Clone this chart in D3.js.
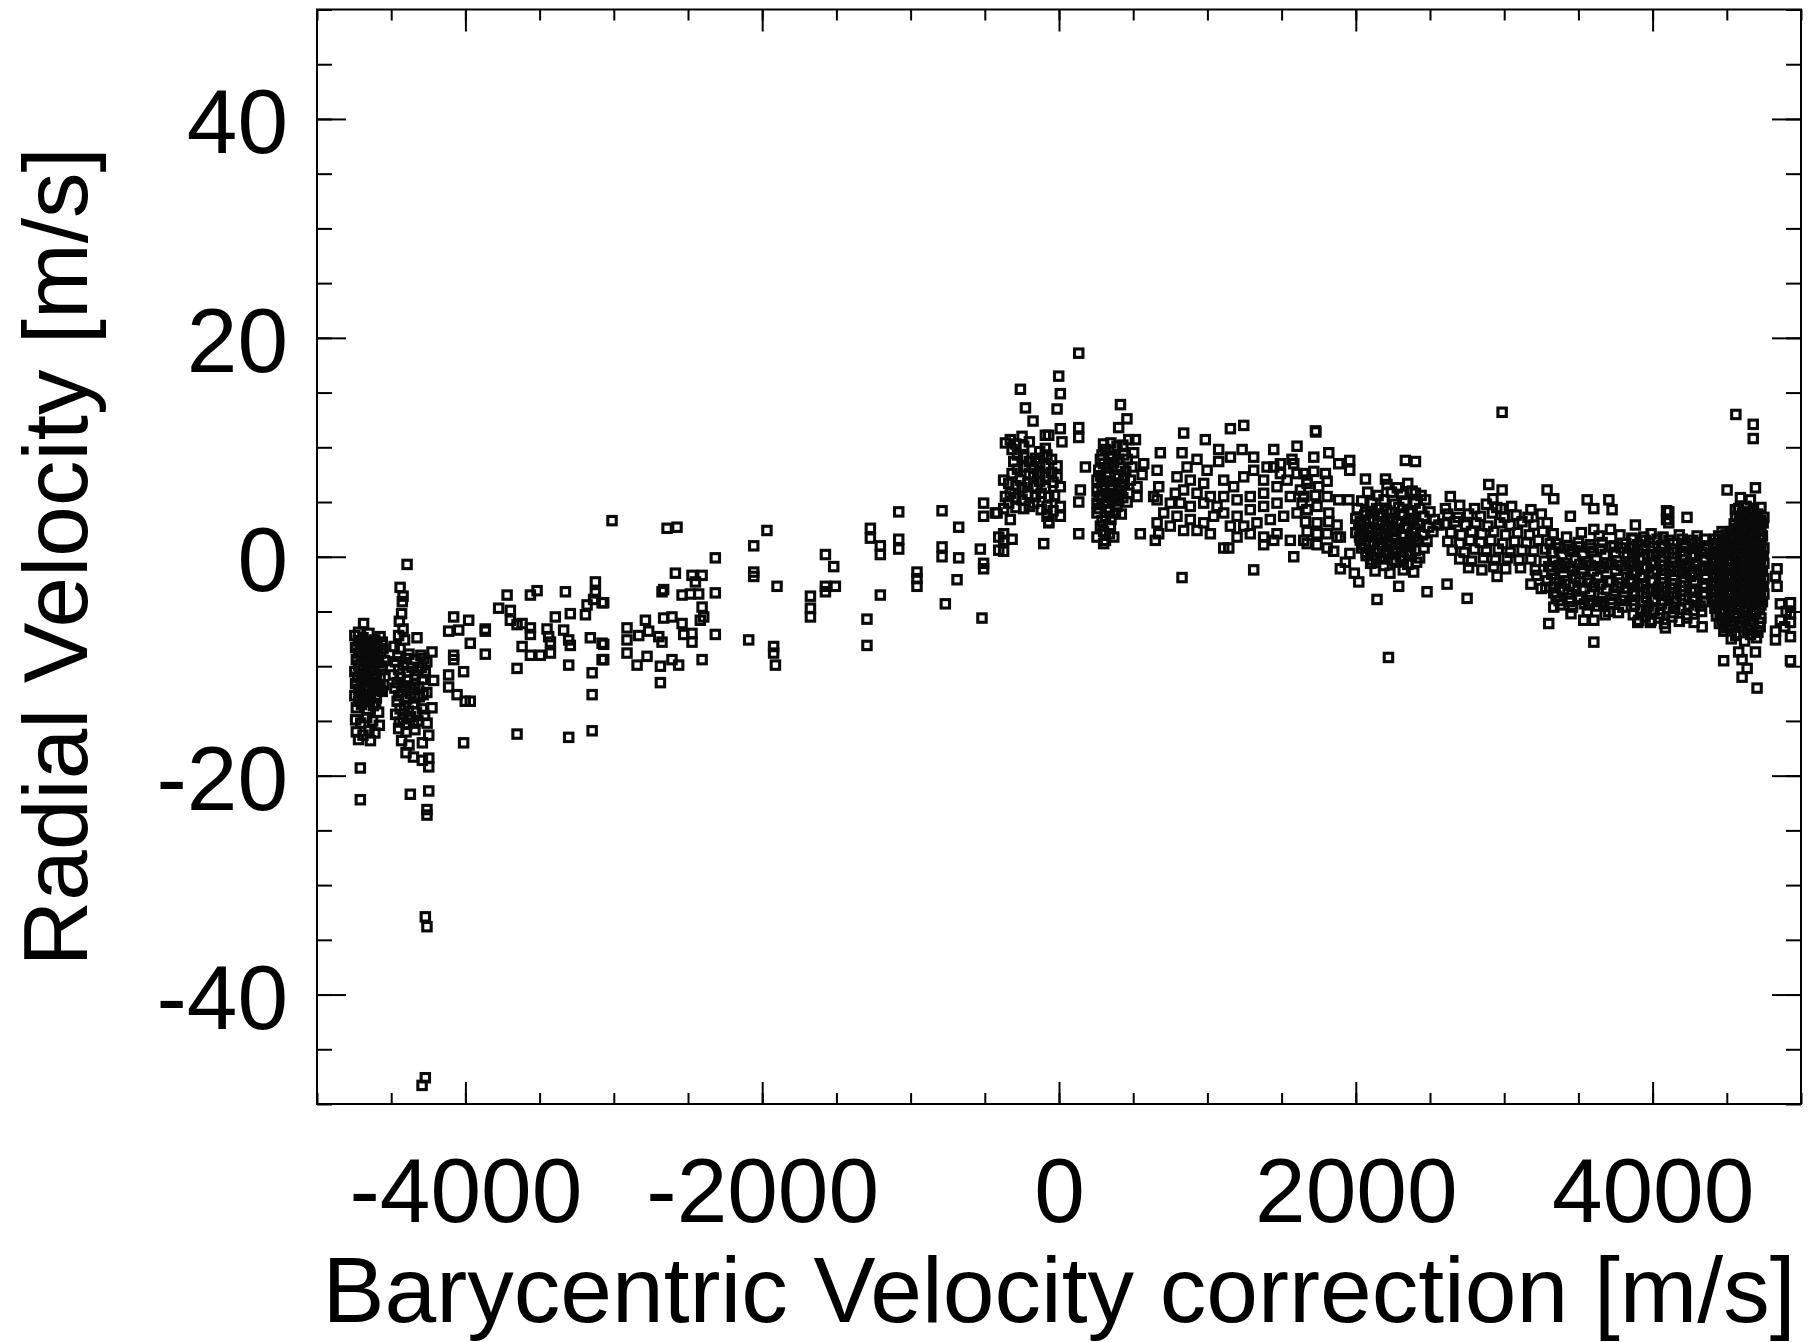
<!DOCTYPE html>
<html>
<head>
<meta charset="utf-8">
<script src="https://cdn.jsdelivr.net/npm/d3@7"></script>
<style>
  body { margin: 0; background: #fff; }
  text { font-family: "Liberation Sans", Arial, Helvetica, sans-serif; fill: #000; }
</style>
</head>
<body>
<svg id="chart" width="1814" height="1342"></svg>
<script>
// barycentric correction [m/s] vs radial velocity [m/s]
var westColumnA = [
  [-4745,-7.2],[-4720,-6.9],[-4690,-7.4],[-4650,-7.0],[-4610,-7.6],[-4575,-7.3],
  [-4740,-8.3],[-4705,-8.0],[-4670,-8.6],[-4630,-8.2],[-4590,-8.9],[-4555,-8.4],
  [-4735,-9.4],[-4700,-9.1],[-4660,-9.8],[-4620,-9.3],[-4585,-9.7],[-4545,-9.5],
  [-4745,-10.5],[-4710,-10.2],[-4675,-10.8],[-4640,-10.4],[-4600,-10.9],[-4560,-10.3],
  [-4740,-11.6],[-4700,-11.3],[-4665,-11.9],[-4625,-11.5],[-4590,-12.0],[-4550,-11.7],
  [-4745,-12.7],[-4715,-12.4],[-4680,-13.0],[-4640,-12.6],[-4600,-12.9],[-4560,-12.3],
  [-4735,-13.8],[-4700,-13.5],[-4660,-14.0],[-4620,-13.6],[-4585,-14.2],
  [-4740,-14.9],[-4705,-15.2],[-4665,-14.7],[-4625,-15.0],[-4580,-15.4],
  [-4735,-16.0],[-4690,-16.3],[-4650,-15.9],[-4610,-16.1],
  [-4720,-16.7],[-4640,-16.8],
  [-4686,-6.1],[-4708,-19.3],[-4708,-22.2],
  [-4722,-7.7],[-4680,-7.8],[-4640,-7.7],[-4595,-7.9],[-4560,-7.8],
  [-4720,-8.8],[-4685,-8.7],[-4650,-8.9],[-4610,-8.6],[-4570,-8.8],
  [-4720,-9.9],[-4680,-9.6],[-4640,-9.9],[-4600,-9.6],[-4565,-10.0],
  [-4725,-11.0],[-4690,-10.9],[-4655,-11.1],[-4615,-11.0],[-4575,-11.1],
  [-4720,-12.1],[-4685,-12.2],[-4650,-12.0],[-4610,-12.2],[-4575,-12.1],
  [-4720,-13.2],[-4690,-13.1],[-4645,-13.2],[-4605,-13.4]
];
var westColumnB = [
  [-4393,-0.7],[-4440,-2.8],[-4420,-3.6],[-4425,-4.1],[-4430,-5.2],[-4445,-5.9],[-4420,-6.6],
  [-4450,-7.2],[-4410,-7.6],[-4326,-7.4],[-4225,-8.7],
  [-4480,-8.2],[-4440,-8.4],[-4380,-8.9],[-4300,-9.0],[-4260,-9.6],
  [-4470,-9.6],[-4420,-9.9],[-4360,-10.1],[-4320,-10.4],[-4270,-10.6],
  [-4485,-10.8],[-4440,-11.0],[-4390,-11.3],[-4340,-11.6],[-4290,-11.2],[-4214,-11.3],
  [-4475,-12.0],[-4430,-12.3],[-4370,-12.5],[-4310,-12.8],[-4260,-12.4],
  [-4460,-13.2],[-4410,-13.6],[-4350,-13.4],[-4290,-13.9],[-4225,-13.8],
  [-4470,-14.4],[-4420,-14.8],[-4370,-14.6],[-4320,-15.0],[-4258,-15.2],
  [-4450,-15.7],[-4400,-16.0],[-4340,-15.8],[-4247,-16.3],
  [-4430,-16.8],[-4380,-17.2],[-4290,-17.0],
  [-4400,-17.9],[-4350,-18.3],
  [-4290,-18.6],[-4247,-18.4],[-4247,-19.2],[-4371,-21.7],[-4247,-21.4],[-4259,-23.1],[-4259,-23.6],
  [-4270,-32.9],[-4259,-33.8],[-4270,-47.6],[-4292,-48.3],
  [-4455,-9.1],[-4400,-9.3],[-4340,-9.4],[-4280,-9.3],
  [-4450,-10.3],[-4390,-10.5],[-4340,-10.8],[-4295,-10.1],
  [-4460,-11.5],[-4410,-11.8],[-4360,-12.0],[-4315,-11.9],
  [-4450,-12.7],[-4395,-13.0],[-4340,-12.9],[-4285,-12.6],
  [-4440,-13.9],[-4385,-14.1],[-4330,-14.2],[-4275,-14.5],
  [-4445,-15.1],[-4395,-15.3],[-4350,-15.2]
];
var westSparse = [
  [-4079,-5.5],[-3978,-5.8],[-4113,-6.8],[-4045,-6.7],[-3866,-6.6],[-3866,-6.8],[-3967,-7.9],
  [-3866,-8.9],[-4079,-9.0],[-4079,-9.4],[-4113,-10.8],[-4012,-10.5],[-4113,-11.9],[-4056,-12.6],
  [-4001,-13.2],[-3967,-13.2],[-4012,-17.0],[-3652,-16.2],[-3304,-16.5],[-3146,-15.9],
  [-3719,-3.5],[-3776,-4.7],[-3697,-4.9],[-3562,-3.5],[-3517,-3.1],[-3326,-3.2],
  [-3697,-5.8],[-3652,-6.2],[-3618,-6.1],[-3562,-6.5],[-3562,-7.1],
  [-3618,-8.2],[-3562,-9.0],[-3495,-9.0],[-3427,-8.8],[-3652,-10.2],
  [-3450,-6.6],[-3439,-7.3],[-3427,-7.8],[-3394,-5.5],[-3338,-6.7],[-3293,-5.2],
  [-3304,-7.6],[-3293,-8.1],[-3304,-9.9],
  [-3191,-5.3],[-3180,-4.4],[-3136,-3.9],[-3124,-2.3],[-3124,-3.3],[-3079,-4.2],[-3158,-7.4],
  [-3079,-7.9],[-3079,-9.4],[-3146,-10.6],[-3146,-12.6]
];
var midSparse = [
  [-3012,3.3],[-2641,2.6],[-2574,2.7],[-3068,-4.2],[-3068,-8.0],[-3068,-9.4],
  [-2911,-6.5],[-2911,-7.6],[-2911,-8.8],[-2832,-7.2],[-2787,-5.8],[-2765,-6.8],[-2843,-9.9],
  [-2776,-9.1],[-2697,-7.3],[-2675,-7.8],[-2664,-5.6],[-2608,-5.5],[-2686,-10.0],[-2608,-9.4],
  [-2563,-9.9],[-2686,-11.5],[-2540,-6.1],[-2529,-7.1],[-2473,-7.0],[-2473,-7.8],[-2417,-5.8],
  [-2394,-5.5],[-2405,-9.4],[-2316,-7.1],[-2585,-1.5],[-2473,-1.7],[-2405,-1.7],[-2450,-2.3],
  [-2664,-3.0],[-2675,-3.2],[-2540,-3.5],[-2484,-3.4],[-2428,-3.4],[-2405,-4.6],[-2316,-3.3],[-2316,-0.1],
  [-2091,-7.6],[-2057,1.0],[-1968,2.4],[-2057,-1.4],[-2057,-1.8],[-1900,-2.7],[-1923,-8.2],
  [-1923,-8.8],[-1911,-9.9],
  [-1675,-3.6],[-1675,-4.7],[-1675,-5.5],[-1574,0.2],[-1518,-0.9],[-1574,-2.7],[-1574,-3.2],[-1507,-2.7],
  [-1294,-5.7],[-1294,-8.1],[-1271,2.6],[-1271,1.7],[-1204,1.0],[-1204,0.2],[-1204,-3.5],
  [-1080,4.1],[-1080,1.6],[-1080,0.7],[-957,-1.4],[-957,-2.0],[-957,-2.7],
  [-788,4.2],[-788,0.9],[-788,0.0],[-676,2.7],[-676,-0.1],[-687,-2.1],[-766,-4.3],
  [-519,-5.6],[-530,0.7],[-508,4.9],[-508,3.7],[-508,-0.6],[-508,-1.1],[-429,4.0],[-406,1.8],[-406,0.6]
];
var centerPeak = [
  [-328,10.7],[-249,11.0],[-238,10.1],[-316,9.8],[-92,9.9],[-81,9.3],[-159,9.0],[-238,9.1],
  [-305,8.7],[-316,7.6],[-238,8.2],[-170,8.1],[-92,8.3],[-13,8.3],[-13,7.3],[9,6.4],
  [-92,7.3],[-170,7.3],[-260,7.0],[-339,6.7],[-328,5.8],[-249,6.3],[-170,6.4],[-92,6.3],
  [-69,5.5],[-339,4.9],[-249,5.2],[-170,4.9],[-81,4.6],[9,4.6],[9,3.7],[-81,3.7],
  [-69,3.1],[-328,3.4],[-238,4.4],[-159,5.5],
  [133,18.6],[-2,16.5],[9,14.9],[-13,13.5],[-260,15.3],[-226,13.6],[-175,12.4],[133,11.8],
  [133,10.9],[-69,11.1],[9,11.7],[20,10.5],[-92,11.1],[-417,4.0],[-373,2.1],[-316,1.6],
  [-373,0.5],[-373,1.5],[-103,1.2],[-69,3.2],[133,2.1],[178,8.2],[144,6.1],[133,5.0],
  [-361,10.4],[-373,7.0],[-361,5.5],[-373,4.4],
  [-290,10.3],[-200,10.5],[-130,9.6],[-280,9.3],[-200,8.7],[-130,8.6],[-50,8.9],[-280,8.0],
  [-200,7.6],[-130,7.6],[-50,7.7],[-290,6.5],[-210,6.7],[-130,6.9],[-40,6.8],[-290,5.4],
  [-210,5.7],[-120,5.8],[-30,5.6],[-290,4.5],[-200,4.6],[-120,4.3],[-40,4.2]
];
var centerBump = [
  [313,9.8],[391,10.1],[470,10.7],[515,10.7],[279,8.9],[358,9.2],[436,9.3],[503,9.5],[571,8.5],
  [268,7.9],[335,8.1],[414,8.2],[492,8.2],[560,7.5],[256,7.0],[324,6.9],[402,7.2],[481,7.0],
  [526,6.4],[256,6.0],[324,5.8],[402,6.1],[470,5.8],[526,5.5],[256,4.9],[324,4.9],[391,4.6],
  [459,5.0],[256,4.0],[313,3.7],[380,4.0],[279,2.8],[346,2.8],[256,1.8],[313,1.5],[369,1.8],
  [301,1.2],[414,13.9],[458,12.6],[402,11.8],[548,2.1],[661,7.9],[683,9.5],[672,6.4],[661,5.2],
  [290,9.3],[370,8.6],[450,7.8],[290,6.4],[360,6.5],[440,6.6],[290,5.4],[360,5.2],[430,5.4],
  [290,3.3],[350,3.4],[420,3.9],[300,2.3],[340,2.1],
  [300,10.3],[350,10.4],[430,10.2],[300,8.5],[340,9.0],[400,8.9],[460,8.9],[280,7.4],[320,7.6],
  [380,7.5],[440,7.3],[300,6.9],[350,6.2],[420,6.4],[270,5.5],[330,5.5],[400,5.5],[270,4.4],
  [340,4.3],[390,5.1]
];
var centerBand = [
  [829,9.5],[795,7.3],[863,8.2],[930,8.9],[998,7.9],[885,7.0],[975,6.7],[840,6.1],[930,5.8],
  [1020,5.5],[818,4.9],[885,4.6],[975,4.9],[1065,4.6],[795,3.7],[885,3.4],[975,3.1],[1042,3.7],
  [840,2.4],[930,2.4],[1020,2.1],[1110,7.0],[1177,6.4],[1245,7.3],[1312,7.9],[1379,7.0],
  [1110,5.5],[1200,5.2],[1289,5.5],[1379,5.8],[1469,6.4],[1537,7.0],[1604,7.6],[1671,7.0],
  [1110,4.0],[1200,3.7],[1289,4.3],[1379,4.6],[1469,4.9],[1559,5.5],[1649,5.5],[1155,2.8],
  [1245,2.8],[1334,3.1],[1424,3.4],[1514,3.7],[1604,4.0],[1671,4.3],[1200,1.8],[1289,2.1],
  [1379,1.8],[1469,2.1],[1559,1.5],[1649,1.5],[1492,7.6],[1582,8.5],[1447,8.2],[1402,8.2],
  [638,5.5],[661,3.1],[706,4.0],[649,1.5],[672,2.1],[750,2.8],[750,4.9],[784,5.8],
  [840,11.3],[986,10.7],[1155,11.7],[1245,12.0],[1076,9.8],[1076,8.7],[1234,9.8],[1155,9.1],
  [1312,9.1],[1447,9.8],[1604,10.1],[1492,8.5],[1570,8.9],[829,-1.9],[1312,-1.2],[1110,0.8],
  [1144,0.8],[1582,0.0],[1447,1.5],[1379,1.1],[1731,11.4]
];
var eastBandA = [
  [1728,11.5],[1717,9.1],[1818,9.5],[1885,8.5],[1959,8.8],[1959,7.9],[1896,1.8],[1896,-1.1],
  [1649,7.6],[1717,7.8],[1795,7.6],[1672,6.7],[1750,6.4],[1807,6.9],[1649,5.5],[1728,5.6],
  [1807,5.5],[1885,5.2],[1953,5.2],[1672,4.3],[1739,4.6],[1818,4.0],[1661,3.2],[1739,3.1],
  [1818,3.2],[1874,2.9],[1672,2.3],[1739,2.1],[1807,2.1],[1874,1.8],[1672,1.2],[1739,1.1],
  [1807,0.8],[1851,0.5],[1627,6.1],[1638,4.9],[1930,-0.5],[1990,-1.5],[1960,0.3]
];
var eastBandB = [
  [2210,6.6],[2280,6.3],[2350,6.7],
  [2080,5.9],[2150,5.6],[2240,5.9],[2310,5.7],[2380,6.0],[2440,5.6],
  [2040,5.1],[2110,4.9],[2190,5.2],[2260,4.8],[2330,5.1],[2400,4.9],[2470,5.2],
  [2010,4.4],[2070,4.1],[2140,4.4],[2210,4.2],[2290,4.5],[2360,4.2],[2430,4.4],[2500,4.1],
  [2000,3.5],[2060,3.8],[2120,3.4],[2180,3.7],[2250,3.5],[2320,3.8],[2390,3.5],[2460,3.7],[2530,3.4],
  [2020,2.9],[2090,2.7],[2150,3.0],[2220,2.8],[2280,3.1],[2350,2.8],[2420,3.0],[2490,2.7],[2560,2.9],
  [2000,2.2],[2050,2.0],[2110,2.3],[2170,2.1],[2240,2.3],[2310,2.0],[2380,2.2],[2450,2.0],[2520,2.3],
  [2030,1.5],[2090,1.3],[2150,1.6],[2210,1.4],[2270,1.6],[2340,1.3],[2410,1.5],[2480,1.4],
  [2040,0.8],[2100,0.6],[2180,0.9],[2250,0.7],[2330,0.9],[2400,0.6],[2460,0.8],
  [2070,0.1],[2140,-0.1],[2220,0.2],[2300,0.0],[2370,0.2],[2430,-0.1],
  [2100,-0.6],[2190,-0.8],[2270,-0.5],[2350,-0.7],[2410,-0.5],
  [2130,-1.3],[2230,-1.5],[2320,-1.2],[2390,-1.4],
  [2334,8.8],[2402,8.7],[2065,7.1],[2200,7.1],[2637,5.5],[2604,4.4],[2402,5.8],[2020,-2.3],
  [2143,-3.9],[2289,-2.7],[2480,-3.2],[2220,-9.2],
  [2100,4.0],[2170,3.9],[2240,4.0],[2310,3.9],[2380,4.0],
  [2030,3.2],[2090,3.3],[2150,3.2],[2215,3.3],[2285,3.2],[2355,3.3],
  [2035,2.5],[2080,2.6],[2140,2.5],[2200,2.6],[2260,2.5],[2330,2.6],[2400,2.5],
  [2025,1.8],[2080,1.9],[2140,1.8],[2200,1.9],[2260,1.8],[2320,1.9],[2390,1.8],
  [2060,1.1],[2120,1.2],[2180,1.1],[2240,1.2],[2300,1.1],[2370,1.2],
  [2070,0.4],[2140,0.5],[2210,0.4],[2280,0.5],[2350,0.4],
  [2110,-0.3],[2180,-0.2],[2250,-0.3],[2320,-0.2]
];
var eastBandC = [
  [2700,4.7],[2800,4.4],[2880,4.8],[2950,4.5],[3050,4.6],[3180,4.3],
  [2620,3.9],[2690,3.6],[2760,3.9],[2840,3.7],[2920,4.0],[3000,3.6],[3080,3.8],[3160,3.6],[3250,3.9],
  [2600,3.0],[2670,3.2],[2740,2.9],[2810,3.1],[2890,2.8],[2970,3.1],[3040,2.9],[3120,3.2],[3200,2.9],[3290,3.1],
  [2640,2.2],[2710,2.0],[2780,2.3],[2850,2.1],[2930,2.3],[3010,2.0],[3090,2.2],[3170,2.0],[3260,2.3],[3330,2.1],
  [2620,1.4],[2700,1.2],[2770,1.5],[2840,1.3],[2910,1.5],[2990,1.2],[3070,1.4],[3150,1.3],[3230,1.5],[3310,1.2],
  [2650,0.6],[2730,0.4],[2800,0.7],[2880,0.5],[2960,0.7],[3040,0.4],[3120,0.6],[3200,0.5],[3280,0.7],
  [2700,-0.2],[2780,-0.4],[2860,-0.1],[2940,-0.3],[3020,-0.1],[3100,-0.3],[3180,-0.2],[3270,-0.4],
  [2760,-1.0],[2850,-1.2],[2930,-0.9],[3010,-1.1],[3110,-1.0],[3210,-1.2],[3300,-0.9],
  [3220,-1.7],[3290,-2.2],[3250,-2.9],[3320,-1.6],[3334,-3.3],[3334,-4.6],[3300,-6.1],[2986,13.2],
  [2896,6.6],[2986,6.1],[3289,6.1],[3334,5.3],[2615,-2.5],[2750,-3.8],[2952,-1.8],[2924,5.3],
  [2978,4.4],[3280,-2.8],[3180,-2.5]
];
var eastBandD = [
  [3330,2.1],[3420,1.8],[3520,2.2],[3640,1.9],[3780,2.0],[3860,1.7],[3990,2.1],[4070,1.8],[4180,2.0],[4300,1.9],
  [3350,1.2],[3430,1.0],[3500,1.3],[3580,1.1],[3660,1.3],[3740,1.0],[3820,1.2],[3900,1.1],[3980,1.3],[4060,1.0],
  [4140,1.2],[4220,1.1],[4300,1.3],[4370,1.0],
  [3320,0.4],[3390,0.2],[3460,0.5],[3530,0.3],[3600,0.5],[3680,0.2],[3750,0.4],[3830,0.3],[3900,0.5],[3970,0.2],
  [4040,0.4],[4110,0.3],[4190,0.5],[4260,0.2],[4330,0.4],[4390,0.3],
  [3340,-0.4],[3410,-0.6],[3480,-0.3],[3550,-0.5],[3620,-0.3],[3690,-0.6],[3760,-0.4],[3840,-0.5],[3910,-0.3],
  [3990,-0.6],[4060,-0.4],[4130,-0.5],[4200,-0.3],[4280,-0.6],[4350,-0.4],
  [3320,-1.2],[3390,-1.0],[3460,-1.3],[3530,-1.1],[3600,-1.3],[3670,-1.0],[3750,-1.2],[3820,-1.1],[3890,-1.3],
  [3960,-1.0],[4030,-1.2],[4110,-1.1],[4180,-1.3],[4250,-1.0],[4320,-1.2],[4390,-1.1],
  [3340,-2.0],[3410,-2.2],[3480,-1.9],[3560,-2.1],[3630,-1.9],[3700,-2.2],[3770,-2.0],[3850,-2.1],[3920,-1.9],
  [3990,-2.2],[4060,-2.0],[4140,-2.1],[4210,-1.9],[4280,-2.2],[4360,-2.0],
  [3330,-2.8],[3400,-3.0],[3470,-2.7],[3540,-2.9],[3610,-2.7],[3690,-3.0],[3760,-2.8],[3830,-2.9],[3900,-2.7],
  [3970,-3.0],[4040,-2.8],[4120,-2.9],[4190,-2.7],[4260,-3.0],[4340,-2.8],
  [3350,-3.6],[3430,-3.4],[3500,-3.7],[3580,-3.5],[3660,-3.7],[3740,-3.4],[3810,-3.6],[3880,-3.5],[3960,-3.7],
  [4040,-3.4],[4110,-3.6],[4190,-3.5],[4270,-3.7],[4340,-3.4],
  [3380,-4.4],[3460,-4.6],[3540,-4.3],[3630,-4.5],[3720,-4.3],[3800,-4.6],[3880,-4.4],[3970,-4.5],[4060,-4.3],
  [4150,-4.6],[4240,-4.4],[4320,-4.5],
  [3450,-5.2],[3560,-5.0],[3680,-5.3],[3770,-5.1],[3870,-5.3],[3960,-5.0],[4050,-5.2],[4140,-5.1],[4230,-5.3],[4330,-5.0],
  [3900,-6.0],[3990,-5.8],[4080,-6.1],[4180,-5.9],[4280,-6.0],
  [4109,4.1],[4109,3.1],[4232,3.6],[3559,5.2],[3705,5.2],[3727,4.3],[3604,4.4],[3446,3.7],[3604,2.5],
  [3716,2.5],[3884,2.9],[3940,1.8],[4266,1.2],[4232,-0.8],[4255,-1.8],[3604,-7.8],[3536,-5.8],[3604,-5.8],
  [4334,-6.4],[4086,-6.5],[3907,-5.8],[3985,-6.0],[3705,-5.0],[3671,-4.3],[3570,-4.4],[3446,-3.8],
  [4094,4.2],[4094,3.4]
];
var eastBandDCore = [
  [3870,1.6],[3950,1.5],[4030,1.6],[4110,1.5],[4200,1.6],[4270,1.5],[4350,1.6],
  [3865,0.8],[3935,0.7],[4005,0.9],[4075,0.8],[4145,0.7],[4215,0.9],[4285,0.8],[4355,0.7],
  [3865,0.0],[3935,-0.1],[4005,0.1],[4075,0.0],[4145,-0.1],[4215,0.1],[4285,0.0],[4355,-0.1],
  [3865,-0.8],[3935,-0.9],[4005,-0.7],[4075,-0.8],[4145,-0.9],[4215,-0.7],[4285,-0.8],[4355,-0.9],
  [3865,-1.6],[3935,-1.7],[4005,-1.5],[4075,-1.6],[4145,-1.7],[4215,-1.5],[4285,-1.6],[4355,-1.7],
  [3865,-2.4],[3935,-2.5],[4005,-2.3],[4075,-2.4],[4145,-2.5],[4215,-2.3],[4285,-2.4],[4355,-2.5],
  [3865,-3.2],[3935,-3.3],[4005,-3.1],[4075,-3.2],[4145,-3.3],[4215,-3.1],[4285,-3.2],[4355,-3.3],
  [3865,-4.0],[3935,-4.1],[4005,-3.9],[4075,-4.0],[4145,-4.1],[4215,-3.9],[4285,-4.0],[4355,-4.1],
  [3920,-4.8],[4010,-4.9],[4100,-4.7],[4190,-4.8],[4280,-4.9],
  [3950,-5.5],[4040,-5.6],[4130,-5.5],[4230,-5.6],
  [3370,0.8],[3440,0.7],[3510,0.9],[3580,0.8],[3650,0.7],[3720,0.9],[3790,0.8],
  [3370,-0.8],[3440,-0.9],[3510,-0.7],[3580,-0.8],[3650,-0.9],[3720,-0.7],[3790,-0.8],
  [3370,-2.4],[3440,-2.5],[3510,-2.3],[3580,-2.4],[3650,-2.5],[3720,-2.3],[3790,-2.4],
  [3370,-4.0],[3440,-4.1],[3510,-3.9],[3580,-4.0],[3650,-4.1],[3720,-3.9],[3790,-4.0]
];
var eastEdge = [
  [4580,4.4],[4630,4.6],[4680,4.3],[4730,4.5],
  [4560,3.7],[4610,3.9],[4660,3.6],[4710,3.8],[4750,3.6],
  [4550,3.0],[4600,2.8],[4650,3.1],[4700,2.9],[4745,3.1],
  [4530,2.3],[4580,2.1],[4630,2.4],[4680,2.2],[4730,2.4],
  [4420,1.6],[4470,1.4],[4520,1.7],[4570,1.5],[4620,1.7],[4670,1.4],[4720,1.6],
  [4410,0.9],[4460,0.7],[4510,1.0],[4560,0.8],[4610,1.0],[4660,0.7],[4710,0.9],[4750,0.8],
  [4400,0.2],[4450,0.0],[4500,0.3],[4550,0.1],[4600,0.3],[4650,0.0],[4700,0.2],[4745,0.1],
  [4410,-0.5],[4460,-0.7],[4510,-0.4],[4560,-0.6],[4610,-0.4],[4660,-0.7],[4710,-0.5],[4750,-0.6],
  [4400,-1.2],[4450,-1.4],[4500,-1.1],[4550,-1.3],[4600,-1.1],[4650,-1.4],[4700,-1.2],[4740,-1.3],
  [4410,-1.9],[4460,-2.1],[4510,-1.8],[4560,-2.0],[4610,-1.8],[4660,-2.1],[4710,-1.9],[4750,-2.0],
  [4400,-2.6],[4450,-2.8],[4500,-2.5],[4550,-2.7],[4600,-2.5],[4650,-2.8],[4700,-2.6],[4745,-2.7],
  [4410,-3.3],[4460,-3.5],[4510,-3.2],[4560,-3.4],[4610,-3.2],[4660,-3.5],[4710,-3.3],[4750,-3.4],
  [4400,-4.0],[4450,-4.2],[4500,-3.9],[4550,-4.1],[4600,-3.9],[4650,-4.2],[4700,-4.0],[4740,-4.1],
  [4420,-4.7],[4470,-4.9],[4520,-4.6],[4570,-4.8],[4620,-4.6],[4670,-4.9],[4720,-4.7],
  [4430,-5.4],[4490,-5.6],[4550,-5.3],[4610,-5.5],[4670,-5.3],[4730,-5.6],
  [4450,-6.1],[4520,-6.3],[4590,-6.0],[4660,-6.2],[4720,-6.0],
  [4480,-6.8],[4560,-7.0],[4640,-6.7],[4710,-6.9],
  [4530,-7.5],[4620,-7.7],[4700,-7.4]
];
var eastEdgeCore = [
  [4605,4.0],[4655,4.1],[4705,3.9],
  [4585,3.3],[4635,3.4],[4685,3.2],[4730,3.3],
  [4565,2.6],[4615,2.7],[4665,2.5],[4715,2.6],
  [4445,1.9],[4495,2.0],[4545,1.8],[4595,1.9],[4645,2.0],[4695,1.8],[4740,1.9],
  [4435,1.2],[4485,1.3],[4535,1.1],[4585,1.2],[4635,1.3],[4685,1.1],[4730,1.2],
  [4425,0.5],[4475,0.6],[4525,0.4],[4575,0.5],[4625,0.6],[4675,0.4],[4725,0.5],
  [4425,-0.2],[4475,-0.1],[4525,-0.3],[4575,-0.2],[4625,-0.1],[4675,-0.3],[4725,-0.2],
  [4425,-0.9],[4475,-0.8],[4525,-1.0],[4575,-0.9],[4625,-0.8],[4675,-1.0],[4725,-0.9],
  [4425,-1.6],[4475,-1.5],[4525,-1.7],[4575,-1.6],[4625,-1.5],[4675,-1.7],[4725,-1.6],
  [4425,-2.3],[4475,-2.2],[4525,-2.4],[4575,-2.3],[4625,-2.2],[4675,-2.4],[4725,-2.3],
  [4425,-3.0],[4475,-2.9],[4525,-3.1],[4575,-3.0],[4625,-2.9],[4675,-3.1],[4725,-3.0],
  [4425,-3.7],[4475,-3.6],[4525,-3.8],[4575,-3.7],[4625,-3.6],[4675,-3.8],[4725,-3.7],
  [4435,-4.4],[4485,-4.3],[4535,-4.5],[4585,-4.4],[4635,-4.3],[4685,-4.5],[4730,-4.4],
  [4455,-5.1],[4515,-5.0],[4575,-5.2],[4635,-5.0],[4695,-5.1],
  [4470,-5.8],[4540,-5.9],[4610,-5.7],[4680,-5.8],
  [4500,-6.5],[4580,-6.4],[4660,-6.5],[4725,-6.4],
  [4560,-7.2],[4660,-7.1]
];
var farEast = [
  [4839,-1.1],[4828,-1.8],[4839,-2.7],[4861,-4.3],[4929,-4.2],[4929,-5.2],[4861,-5.8],[4929,-6.0],
  [4828,-7.6],[4929,-7.3],[4828,-6.8],[4929,-9.5],[4900,-5.0],[4890,-6.4],
  [4561,13.0],[4678,12.1],[4678,10.8],[4502,6.1],[4693,6.3],[4592,5.4],[4659,5.2],[4558,4.3],
  [4468,2.3],[4479,-9.5],[4580,-8.7],[4603,-9.4],[4637,-10.2],[4603,-11.0],[4704,-12.0],[4693,-8.7]
];

var series = [westColumnA, westColumnB, westSparse, midSparse, centerPeak, centerBump,
              centerBand, eastBandA, eastBandB, eastBandC, eastBandD, eastBandDCore,
              eastEdge, eastEdgeCore, farEast];
var points = d3.merge(series);

var xDomain = [-5000, 5000],
    yDomain = [-50, 50];
var xTickValues = [-4000, -2000, 0, 2000, 4000],
    yTickValues = [-40, -20, 0, 20, 40];

var svg = d3.select("#chart");
// plot frame in pixels (note: "top" is taken by window.top)
var frameLeft = 317, frameRight = 1801, frameTop = 9.5, frameBottom = 1104;

var x = d3.scaleLinear().domain(xDomain).range([frameLeft, frameRight]);
var y = d3.scaleLinear().domain(yDomain).range([frameBottom, frameTop]);

var fontSize = 91;
var label = function(d) { return String(d); };   // plain hyphen minus like the original

// points first, frame and ticks drawn on top
var box = 8.4;
svg.append("g").selectAll("rect")
  .data(points)
  .enter().append("rect")
  .attr("x", function(d) { return x(d[0]) - box / 2; })
  .attr("y", function(d) { return y(d[1]) - box / 2; })
  .attr("width", box)
  .attr("height", box)
  .attr("fill", "none")
  .attr("stroke", "#0a0a0a")
  .attr("stroke-width", 3.1);

function styleAxis(g) {
  g.select(".domain").remove();
  g.selectAll(".tick line").attr("stroke", "#000").attr("stroke-width", 2);
  g.selectAll("text").attr("font-size", fontSize + "px")
    .attr("font-family", "'Liberation Sans', Arial, Helvetica, sans-serif");
}

// minor ticks, all four sides
var xMinor = x.ticks(20), yMinor = y.ticks(20);
svg.append("g").attr("transform", "translate(0," + frameBottom + ")")
  .call(d3.axisBottom(x).tickValues(xMinor).tickSize(-11).tickFormat(""))
  .call(styleAxis);
svg.append("g").attr("transform", "translate(0," + frameTop + ")")
  .call(d3.axisTop(x).tickValues(xMinor).tickSize(-11).tickFormat(""))
  .call(styleAxis);
svg.append("g").attr("transform", "translate(" + frameLeft + ",0)")
  .call(d3.axisLeft(y).tickValues(yMinor).tickSize(-15).tickFormat(""))
  .call(styleAxis);
svg.append("g").attr("transform", "translate(" + frameRight + ",0)")
  .call(d3.axisRight(y).tickValues(yMinor).tickSize(-15).tickFormat(""))
  .call(styleAxis);

// major ticks with labels
svg.append("g").attr("transform", "translate(0," + frameBottom + ")")
  .call(d3.axisBottom(x).tickValues(xTickValues).tickSize(-22).tickPadding(53).tickFormat(label))
  .call(styleAxis);
svg.append("g").attr("transform", "translate(0," + frameTop + ")")
  .call(d3.axisTop(x).tickValues(xTickValues).tickSize(-22).tickFormat(""))
  .call(styleAxis);
svg.append("g").attr("transform", "translate(" + frameLeft + ",0)")
  .call(d3.axisLeft(y).tickValues(yTickValues).tickSize(-29).tickPadding(29).tickFormat(label))
  .call(styleAxis)
  .selectAll("text").attr("dy", "0.37em");
svg.append("g").attr("transform", "translate(" + frameRight + ",0)")
  .call(d3.axisRight(y).tickValues(yTickValues).tickSize(-29).tickFormat(""))
  .call(styleAxis);

// frame
svg.append("rect")
  .attr("x", frameLeft).attr("y", frameTop)
  .attr("width", frameRight - frameLeft).attr("height", frameBottom - frameTop)
  .attr("fill", "none").attr("stroke", "#000").attr("stroke-width", 2);

// axis titles
svg.append("text")
  .attr("x", (frameLeft + frameRight) / 2)
  .attr("y", 1322)
  .attr("text-anchor", "middle")
  .attr("font-size", "93px")
  .text("Barycentric Velocity correction [m/s]");

svg.append("text")
  .attr("transform", "translate(87," + y(0) + ") rotate(-90)")
  .attr("text-anchor", "middle")
  .attr("font-size", fontSize + "px")
  .text("Radial Velocity [m/s]");
</script>
</body>
</html>
